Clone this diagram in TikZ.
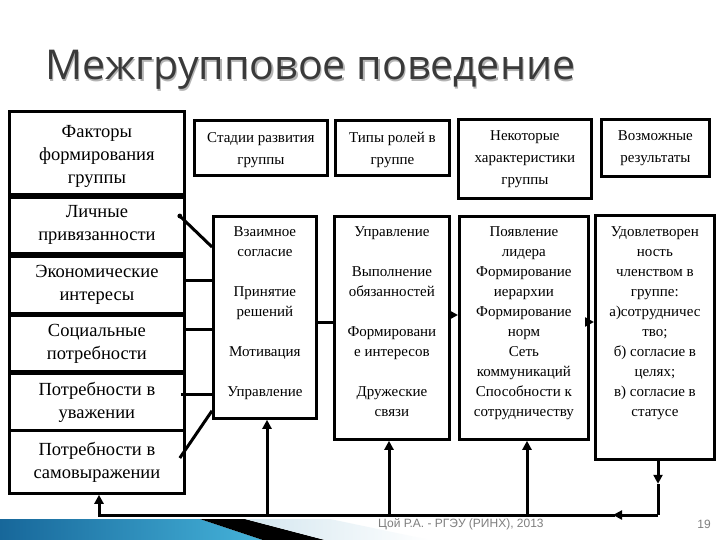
\documentclass[tikz,border=0pt]{standalone}
\usepackage{fontspec}
\setmainfont{Liberation Serif}
\newfontfamily\titlefont{Open Sans}
\newfontfamily\footfont{Liberation Sans}
\usetikzlibrary{arrows.meta,calc}
\definecolor{titlegray}{HTML}{3A3A3A}
\definecolor{shadowgray}{HTML}{B4B4B4}
\definecolor{footgray}{HTML}{7F7F7F}
\definecolor{bandblueA}{HTML}{17679A}
\definecolor{bandblueB}{HTML}{45B3DA}
\definecolor{bandlight}{HTML}{D3E6EF}
\begin{document}
\begin{tikzpicture}[x=1pt,y=-1pt,
  box/.style={draw=black,line width=2.8pt,rectangle,inner sep=0pt,anchor=north west},
  lbl/.style={align=center,inner sep=0pt},
  leftfont/.style={font=\fontsize{18.5}{23}\selectfont},
  headfont/.style={font=\fontsize{15}{22}\selectfont},
  midfont/.style={font=\fontsize{15}{20}\selectfont},
  conn/.style={draw=black,line width=3pt},
  arr/.style={draw=black,line width=3pt,-{Triangle[length=9pt,width=9pt]}}]
\useasboundingbox[fill=white] (0,0) rectangle (720,540);

% footer band
\shade[left color=bandblueA,right color=bandblueB] (0,519) -- (200,519) -- (263,540) -- (0,540) -- cycle;
\fill[black] (200,519) -- (245,519) -- (325,540) -- (263,540) -- cycle;
\shade[left color=bandlight,right color=white] (245,519) -- (330,519) -- (430,540) -- (325,540) -- cycle;
\node[font=\footfont\fontsize{12}{14}\selectfont,text=footgray,anchor=west,inner sep=0pt] (foot) at (378,524) {Цой Р.А. - РГЭУ (РИНХ), 2013};
\node[font=\footfont\fontsize{12}{14}\selectfont,text=footgray,anchor=east,inner sep=0pt] (pnum) at (711,524) {19};

% title
\node[anchor=base west,inner sep=0pt,text=shadowgray] (titleshadow) at (46.5,81.5) {\resizebox{530pt}{!}{\titlefont\fontsize{44}{50}\selectfont Межгрупповое поведение}};
\node[anchor=base west,inner sep=0pt,text=titlegray] (title) at (45,80) {\resizebox{530pt}{!}{\titlefont\fontsize{44}{50}\selectfont Межгрупповое поведение}};

% left column
\node[box,minimum width=175pt,minimum height=83pt] (r1) at (8,110) {};
\node[box,minimum width=175pt,minimum height=56pt] (r2) at (8,196) {};
\node[box,minimum width=175pt,minimum height=57pt] (r3) at (8,255) {};
\node[box,minimum width=175pt,minimum height=56pt] (r4) at (8,314) {};
\node[box,minimum width=175pt,minimum height=57pt] (r5) at (8,372) {};
\node[box,minimum width=175pt,minimum height=63pt] (r6) at (8,429) {};
\node[lbl,leftfont] (t1) at ($(r1.center)+(0,4)$) {Факторы\\формирования\\группы};
\node[lbl,leftfont] (t2) at (r2.center) {Личные\\привязанности};
\node[lbl,leftfont] (t3) at (r3.center) {Экономические\\интересы};
\node[lbl,leftfont] (t4) at (r4.center) {Социальные\\потребности};
\node[lbl,leftfont] (t5) at (r5.center) {Потребности в\\уважении};
\node[lbl,leftfont] (t6) at (r6.center) {Потребности в\\самовыражении};

% header boxes
\node[box,minimum width=133pt,minimum height=55pt] (h1) at (193,119) {};
\node[box,minimum width=114pt,minimum height=55pt] (h2) at (334,119) {};
\node[box,minimum width=133pt,minimum height=79pt] (h3) at (457,118) {};
\node[box,minimum width=108pt,minimum height=57pt] (h4) at (600,118) {};
\node[lbl,headfont] (ht1) at ($(h1.center)+(0,2)$) {Стадии развития\\группы};
\node[lbl,headfont] (ht2) at ($(h2.center)+(0,2)$) {Типы ролей в\\группе};
\node[lbl,headfont] (ht3) at (h3.center) {Некоторые\\характеристики\\группы};
\node[lbl,headfont] (ht4) at (h4.center) {Возможные\\результаты};

% middle boxes
\node[box,minimum width=103pt,minimum height=202pt] (m1) at (212,215) {};
\node[box,minimum width=115pt,minimum height=223pt] (m2) at (333,215) {};
\node[box,minimum width=129pt,minimum height=223pt] (m3) at (458,215) {};
\node[box,minimum width=119pt,minimum height=244pt] (m4) at (594,214) {};
\node[lbl,midfont,anchor=north] (mt1) at ($(m1.north)+(0,11.5)$) {Взаимное\\согласие\\[20pt]Принятие\\решений\\[20pt]Мотивация\\[20pt]Управление};
\node[lbl,midfont,anchor=north] (mt2) at ($(m2.north)+(0,11.5)$) {Управление\\[20pt]Выполнение\\обязанностей\\[20pt]Формировани\\е интересов\\[20pt]Дружеские\\связи};
\node[lbl,midfont,anchor=north] (mt3) at ($(m3.north)+(0,11.5)$) {Появление\\лидера\\Формирование\\иерархии\\Формирование\\норм\\Сеть\\коммуникаций\\Способности к\\сотрудничеству};
\node[lbl,midfont,anchor=north] (mt4) at ($(m4.north)+(0,12.5)$) {Удовлетворен\\ность\\членством в\\группе:\\а)сотрудничес\\тво;\\б) согласие в\\целях;\\в) согласие в\\статусе};

% left connectors
\coordinate (c2) at ($(r2.north east)+(-6,20)$);
\coordinate (c2e) at ($(m1.north west)+(0,32)$);
\fill (c2) circle (2.4pt);
\draw[conn] (c2) -- (c2e);
\coordinate (c3) at ($(r3.north east)+(0,25)$);
\draw[conn] (c3) -- (c3 -| m1.west);
\coordinate (c4) at ($(r4.north east)+(0,15)$);
\draw[conn] (c4) -- (c4 -| m1.west);
\coordinate (c5) at ($(r5.north east)+(-5,22)$);
\draw[conn] (c5) -- (c5 -| m1.west);
\coordinate (c6) at ($(r6.north east)+(-6,29)$);
\coordinate (c6e) at ($(m1.south west)+(0,-9)$);
\draw[conn] (c6) -- (c6e);

% middle connectors
\coordinate (k12) at ($(m1.north east)+(0,107)$);
\draw[conn] (k12) -- (k12 -| m2.west);
\coordinate (k23) at ($(m2.north east)+(0,100)$);
\draw[arr] (k23) -- (k23 -| m3.west);
\coordinate (k34) at ($(m3.north east)+(0,107)$);
\draw[arr] (k34) -- (k34 -| m4.west);

% feedback loop
\coordinate (fb4) at ($(m4.south west)+(64,0)$);
\coordinate (fbc) at (fb4 |- 0,515);
\coordinate (fbmid) at ($(fb4)+(0,23)$);
\coordinate (fbl) at (r6.south -| 99,0);
\coordinate (fbbl) at (fbl |- 0,515);
\draw[arr] (fb4) -- (fbmid);
\draw[conn] (fbmid) -- (fbc);
\coordinate (fbarr) at (613,515);
\draw[arr] (fbc) -- (fbarr);
\draw[conn,line cap=rect] (fbarr) -- (fbbl);
\draw[arr] (fbbl) -- (fbl);
\coordinate (u1) at (267,515);
\draw[arr] (u1) -- (u1 |- m1.south);
\coordinate (u2) at (389,515);
\draw[arr] (u2) -- (u2 |- m2.south);
\coordinate (u3) at (527,515);
\draw[arr] (u3) -- (u3 |- m3.south);
\end{tikzpicture}
\end{document}
